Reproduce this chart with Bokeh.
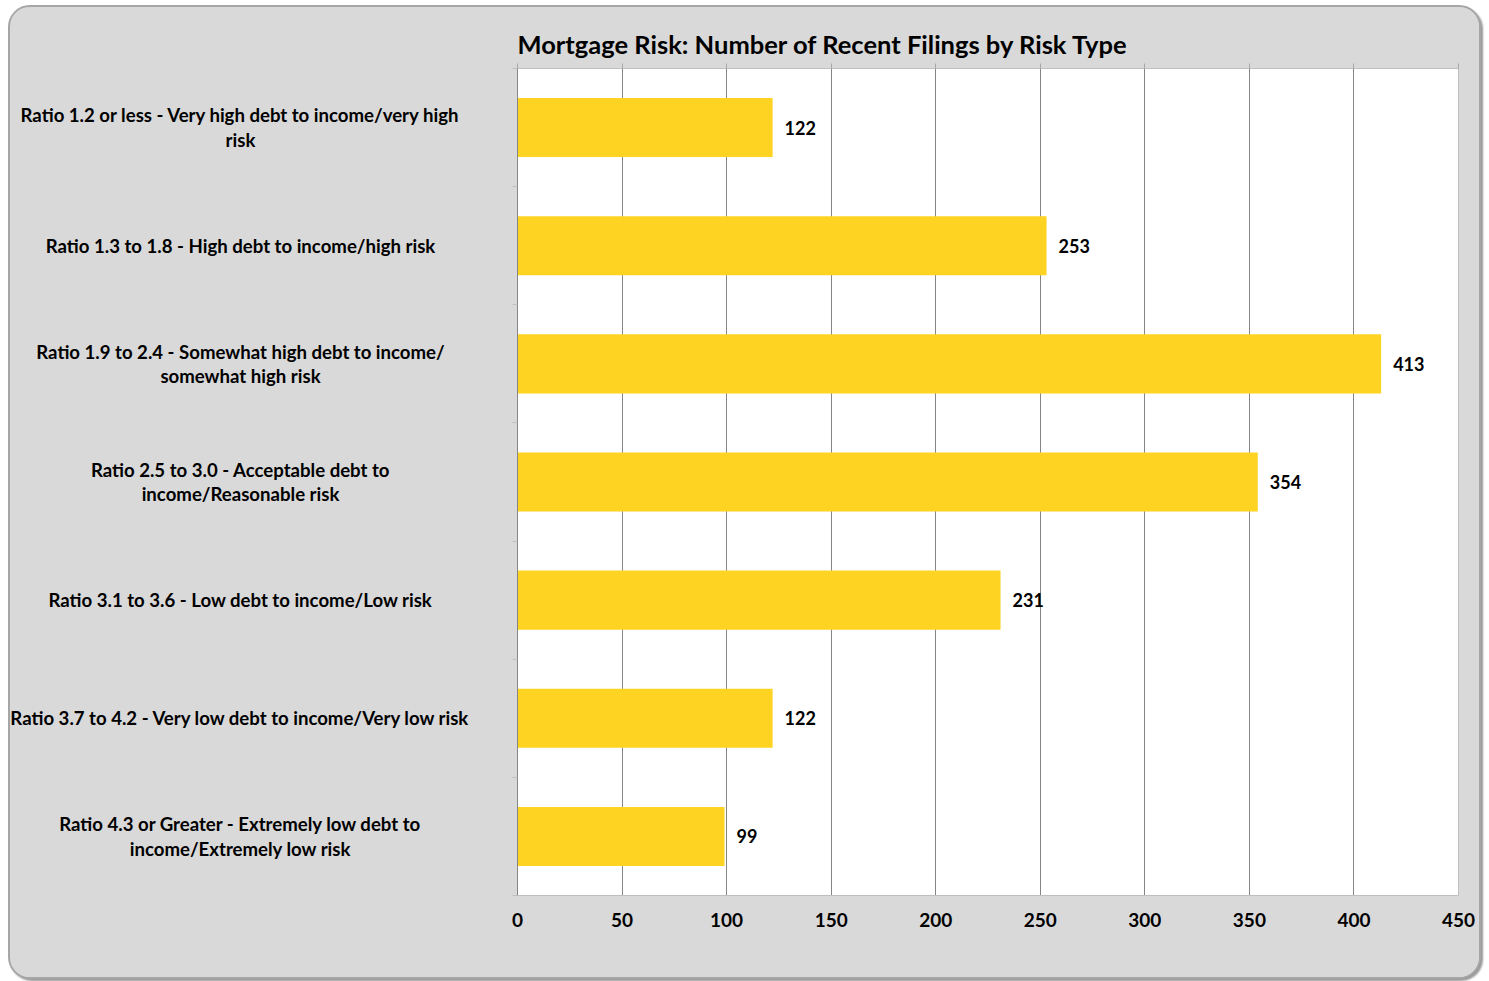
from bokeh.plotting import figure
from bokeh.layouts import row
from bokeh.models import Range1d, LabelSet, LinearAxis, FixedTicker, ColumnDataSource
from bokeh.core.properties import value
from bokeh.embed import file_html
from bokeh.resources import INLINE

categories = [
    "Ratio 1.2 or less - Very high debt to income/very high\nrisk",
    "Ratio 1.3 to 1.8 - High debt to income/high risk",
    "Ratio 1.9 to 2.4 - Somewhat high debt to income/\nsomewhat high risk",
    "Ratio 2.5 to 3.0 - Acceptable debt to\nincome/Reasonable risk",
    "Ratio 3.1 to 3.6 - Low debt to income/Low risk",
    "Ratio 3.7 to 4.2 - Very low debt to income/Very low risk",
    "Ratio 4.3 or Greater - Extremely low debt to\nincome/Extremely low risk",
]
values = [122, 253, 413, 354, 231, 122, 99]
x_ticks = [0, 50, 100, 150, 200, 250, 300, 350, 400, 450]
title = "Mortgage Risk: Number of Recent Filings by Risk Type"

FONT = "Lato"
BG = "#D9D9D9"
n = len(categories)
ypos = [i + 0.5 for i in range(n)]

H = 970
TOP = 61
BOT = 82
W_LEFT = 495
W_RIGHT = 1469 - W_LEFT

src = ColumnDataSource(dict(y=ypos, v=values, lab=[str(v) for v in values]))
csrc = ColumnDataSource(dict(y=ypos, cat=categories, x=[230] * n))

yr = Range1d(n, 0)

# left panel with category labels
pl = figure(width=W_LEFT, height=H, x_range=Range1d(0, W_LEFT), y_range=yr,
            output_backend="svg", toolbar_location=None,
            min_border_left=0, min_border_right=0, min_border_top=TOP, min_border_bottom=BOT,
            x_axis_location=None, y_axis_location=None)
pl.background_fill_color = BG
pl.border_fill_color = BG
pl.outline_line_color = None
pl.grid.visible = False
pl.text(x="x", y="y", text="cat", source=csrc, text_align="center", text_baseline="middle",
        text_font=value(FONT), text_font_size="18.6px", text_font_style="bold",
        text_color="black", text_line_height=1.12)

# main chart
p = figure(width=W_RIGHT, height=H, x_range=Range1d(0, 450), y_range=yr,
           output_backend="svg", toolbar_location=None,
           min_border_left=12, min_border_right=21, min_border_top=TOP, min_border_bottom=BOT,
           x_axis_location=None, y_axis_location=None)
p.background_fill_color = "white"
p.border_fill_color = BG
p.outline_line_color = "#BFBFBF"

p.title.text = title
p.title.text_font = FONT
p.title.text_font_size = "25.5px"
p.title.text_font_style = "bold"
p.title.text_color = "black"
p.title.align = "left"

p.hbar(y="y", right="v", left=0, height=0.5, source=src, fill_color="#FED322", line_color=None)

p.add_layout(LabelSet(x="v", y="y", text="lab", source=src, x_offset=12, text_baseline="middle",
                      text_font=value(FONT), text_font_size="18px", text_font_style="bold",
                      text_color="black"))

# bottom axis
bx = LinearAxis(ticker=FixedTicker(ticks=x_ticks))
bx.major_tick_out = 0
bx.major_tick_in = 0
bx.minor_tick_out = 0
bx.minor_tick_in = 0
bx.axis_line_color = "#BFBFBF"
bx.major_label_text_font = FONT
bx.major_label_text_font_size = "19px"
bx.major_label_text_font_style = "bold"
bx.major_label_text_color = "black"
bx.major_label_standoff = 17
p.add_layout(bx, "below")

# top axis (tick stubs only, drawn as minor ticks so no labels exist)
tx = LinearAxis(ticker=FixedTicker(ticks=[], minor_ticks=x_ticks))
tx.major_tick_out = 0
tx.major_tick_in = 0
tx.minor_tick_out = 5
tx.minor_tick_in = 0
tx.axis_line_color = None
tx.minor_tick_line_color = "#A6A6A6"
p.add_layout(tx, "above")

# left axis (category boundary stubs)
ly = LinearAxis(ticker=FixedTicker(ticks=[], minor_ticks=list(range(n + 1))))
ly.major_tick_out = 0
ly.major_tick_in = 0
ly.minor_tick_out = 5
ly.minor_tick_in = 0
ly.axis_line_color = "#868686"
ly.minor_tick_line_color = "#BFBFBF"
p.add_layout(ly, "left")

p.xgrid.ticker = FixedTicker(ticks=x_ticks[1:-1])
p.xgrid.grid_line_color = "#868686"
p.ygrid.visible = False

layout = row(pl, p)
layout.styles = {"border": "2px solid #A6A6A6", "border-radius": "22px", "overflow": "hidden",
                 "box-shadow": "2px 2px 2px #999999", "margin-left": "8px", "margin-top": "5px",
                 "background-color": BG}

open("out.html", "w").write(file_html(layout, INLINE))
